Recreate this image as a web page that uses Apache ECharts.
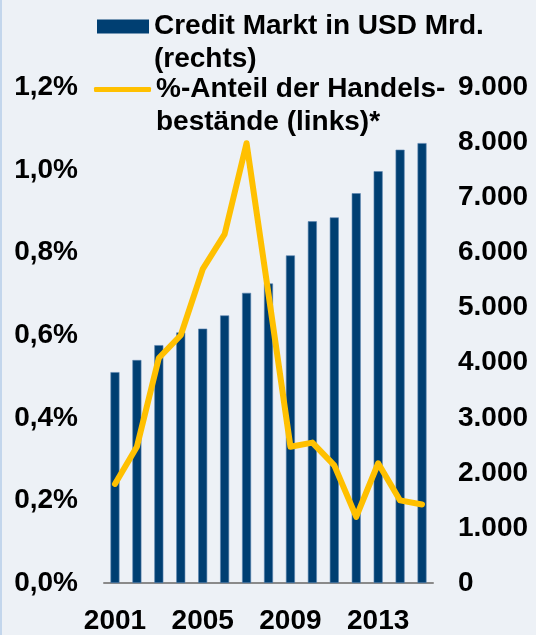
<!DOCTYPE html>
<html>
<head>
<meta charset="utf-8">
<script src="https://cdn.jsdelivr.net/npm/echarts@6/dist/echarts.min.js"></script>
<style>
  html, body { margin: 0; padding: 0; }
  body { background: #edf1f6; }
  #chart { width: 536px; height: 635px; border-left: 2px solid #c3d6ec; box-sizing: border-box; }
</style>
</head>
<body>
<div id="chart"></div>
<script>
// Jahre
const years = ['2001', '2002', '2003', '2004', '2005', '2006', '2007', '2008',
  '2009', '2010', '2011', '2012', '2013', '2014', '2015']
// Credit Markt in USD Mrd. (rechte Achse)
const creditMarkt = [3830, 4050, 4320, 4550, 4620, 4860, 5270, 5440,
  5950, 6570, 6640, 7080, 7480, 7870, 7990]
// %-Anteil der Handelsbestände (linke Achse)
const anteil = [0.24, 0.33, 0.545, 0.60, 0.76, 0.845, 1.065, 0.70,
  0.33, 0.34, 0.285, 0.16, 0.29, 0.20, 0.19]

const barName = 'Credit Markt in USD Mrd.'
const lineName = '%-Anteil der Handels-'
// leere erste Zeile, damit das Symbol auf Höhe der ersten Textzeile sitzt
const legendLines = {}
legendLines[barName] = ' \n' + barName + '\n(rechts)'
legendLines[lineName] = ' \n' + lineName + '\nbestände (links)*'

const font = 'Liberation Sans, Arial, sans-serif'
const labelStyle = { color: '#000', fontSize: 28, fontWeight: 'bold', fontFamily: font }
const legendText = {
  color: '#000', fontSize: 28, fontWeight: 'bold', fontFamily: font, lineHeight: 33
}

const chart = echarts.init(document.getElementById('chart'))
chart.setOption({
  backgroundColor: '#edf1f6',
  animation: false,
  grid: { left: 102, right: 103, top: 87.5, bottom: 48 },
  legend: [
    {
      data: [barName],
      left: 95, top: -23, padding: 0,
      itemWidth: 52, itemHeight: 14,
      icon: 'rect',
      itemStyle: { borderWidth: 0 },
      formatter: n => legendLines[n],
      textStyle: legendText
    },
    {
      data: [lineName],
      left: 92, top: 40, padding: 0,
      itemWidth: 57, itemHeight: 5,
      icon: 'roundRect',
      itemStyle: { borderWidth: 0 },
      formatter: n => legendLines[n],
      textStyle: legendText
    }
  ],
  xAxis: {
    type: 'category',
    data: years,
    axisLine: { lineStyle: { color: '#8a8a8a', width: 2 } },
    axisTick: { show: false },
    axisLabel: Object.assign({ interval: 3, margin: 24 }, labelStyle)
  },
  yAxis: [
    {
      type: 'value',
      min: 0, max: 1.2, interval: 0.2,
      axisLine: { show: false },
      axisTick: { show: false },
      splitLine: { show: false },
      axisLabel: Object.assign({
        margin: 26,
        formatter: v => v.toFixed(1).replace('.', ',') + '%'
      }, labelStyle)
    },
    {
      type: 'value',
      min: 0, max: 9000, interval: 1000,
      position: 'right',
      axisLine: { show: false },
      axisTick: { show: false },
      splitLine: { show: false },
      axisLabel: Object.assign({
        margin: 25,
        formatter: v => v === 0 ? '0' : (v / 1000) + '.000'
      }, labelStyle)
    }
  ],
  series: [
    {
      name: barName,
      type: 'bar',
      yAxisIndex: 1,
      barWidth: 9,
      itemStyle: { color: '#003f72', borderColor: '#5c85b0', borderWidth: 0.6 },
      data: creditMarkt
    },
    {
      name: lineName,
      type: 'line',
      yAxisIndex: 0,
      symbol: 'none',
      itemStyle: { color: '#ffc000' },
      lineStyle: { color: '#ffc000', width: 6, cap: 'round', join: 'round' },
      z: 5,
      data: anteil
    }
  ]
})
</script>
</body>
</html>
